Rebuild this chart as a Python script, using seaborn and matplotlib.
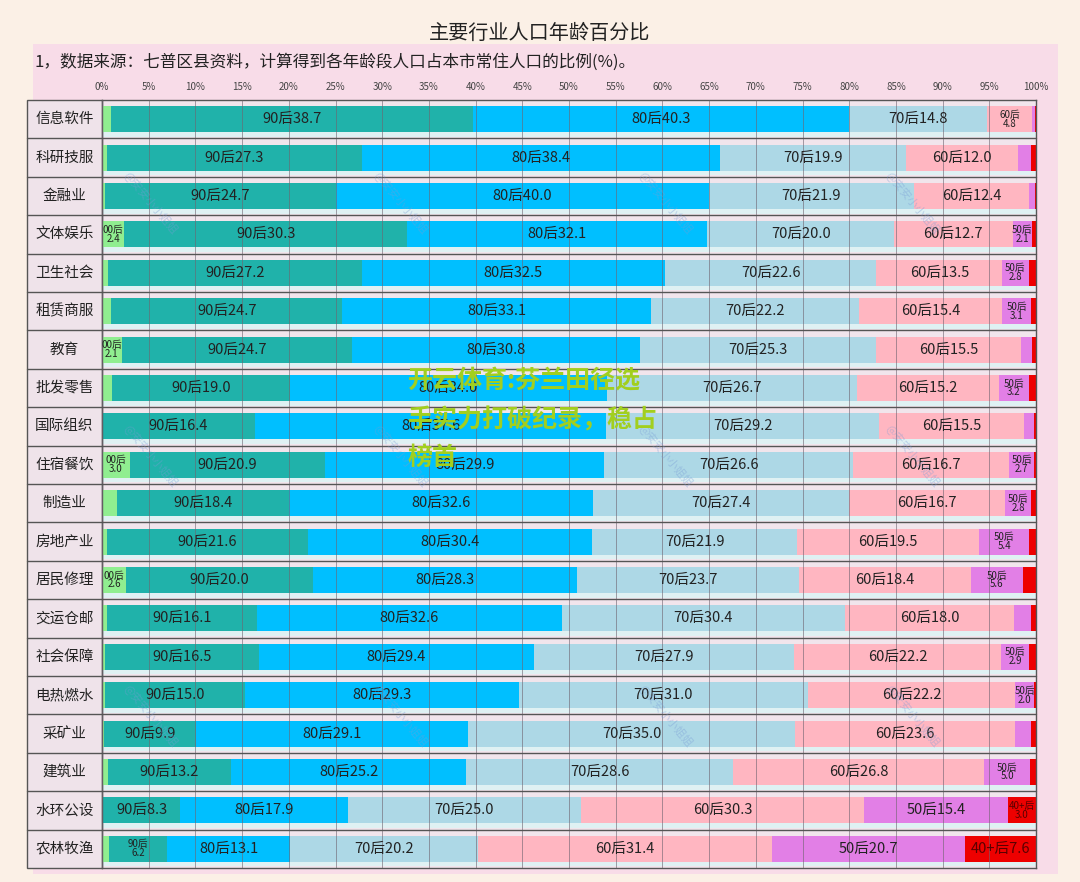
import numpy as np
import pandas as pd
import matplotlib.pyplot as plt
import seaborn as sns
from matplotlib.patches import Rectangle

sns.set_style('white')
plt.rcParams['font.family'] = ['Noto Sans CJK SC', 'DejaVu Sans']

industries = ['信息软件', '科研技服', '金融业', '文体娱乐', '卫生社会', '租赁商服', '教育',
              '批发零售', '国际组织', '住宿餐饮', '制造业', '房地产业', '居民修理', '交运仓邮',
              '社会保障', '电热燃水', '采矿业', '建筑业', '水环公设', '农林牧渔']

post00 = [1.0, 0.5, 0.3, 2.4, 0.6, 1.0, 2.1, 1.1, 0.0, 3.0, 1.6, 0.5, 2.6, 0.5, 0.3, 0.3, 0.2, 0.6, 0.1, 0.8]
post90 = [38.7, 27.3, 24.7, 30.3, 27.2, 24.7, 24.7, 19.0, 16.4, 20.9, 18.4, 21.6, 20.0, 16.1, 16.5, 15.0, 9.9, 13.2, 8.3, 6.2]
post80 = [40.3, 38.4, 40.0, 32.1, 32.5, 33.1, 30.8, 34.0, 37.6, 29.9, 32.6, 30.4, 28.3, 32.6, 29.4, 29.3, 29.1, 25.2, 17.9, 13.1]
post70 = [14.8, 19.9, 21.9, 20.0, 22.6, 22.2, 25.3, 26.7, 29.2, 26.6, 27.4, 21.9, 23.7, 30.4, 27.9, 31.0, 35.0, 28.6, 25.0, 20.2]
post60 = [4.8, 12.0, 12.4, 12.7, 13.5, 15.4, 15.5, 15.2, 15.5, 16.7, 16.7, 19.5, 18.4, 18.0, 22.2, 22.2, 23.6, 26.8, 30.3, 31.4]
post50 = [0.3, 1.4, 0.6, 2.1, 2.8, 3.1, 1.2, 3.2, 1.1, 2.7, 2.8, 5.4, 5.6, 1.9, 2.9, 2.0, 1.7, 5.0, 15.4, 20.7]
post40 = [0.1, 0.5, 0.1, 0.4, 0.8, 0.5, 0.4, 0.8, 0.2, 0.2, 0.5, 0.7, 1.4, 0.5, 0.8, 0.2, 0.5, 0.6, 3.0, 7.6]

groups = ['00后', '90后', '80后', '70后', '60后', '50后', '40+后']
colors = ['#90EE90', '#20B2AA', '#00BFFF', '#ADD8E6', '#FFB6C1', '#E27FE6', '#EE0000']
ticks = list(range(0, 101, 5))

df = pd.DataFrame({'industry': industries, '00后': post00, '90后': post90, '80后': post80,
                   '70后': post70, '60后': post60, '50后': post50, '40+后': post40})
cum = df[groups].cumsum(axis=1)

W, H = 1080, 882


def fx(px):
    return px / W


def fy(py):
    return 1 - py / H


fig = plt.figure(figsize=(10.8, 8.82), dpi=100)
fig.patch.set_facecolor('#FBF0E6')
fig.add_artist(Rectangle((fx(33), fy(874)), fx(1058) - fx(33), fy(44) - fy(874),
                         transform=fig.transFigure, facecolor='#F8DCE8', edgecolor='none', zorder=-1))

ax = fig.add_axes([fx(102), fy(868), fx(1036) - fx(102), fy(100) - fy(868)])
ax.set_facecolor('#F1E5EC')

n = len(industries)
# light strip under every bar
for i in range(n):
    ax.axhspan(i + 0.34, i + 0.46, color='#DFF1F3', zorder=0.5, lw=0)

# stacked bars: draw cumulative totals from the outermost group inwards
for g, c in reversed(list(zip(groups, colors))):
    d = pd.DataFrame({'industry': industries, 'cum': cum[g]})
    sns.barplot(data=d, x='cum', y='industry', order=industries, color=c, saturation=1,
                width=0.68, orient='h', errorbar=None, linewidth=0, ax=ax, zorder=2)

ax.set_xlim(0, 100)
ax.set_ylim(n - 0.5, -0.5)

# segment labels
for i in range(n):
    for g in groups:
        v = df.loc[i, g]
        if v < 2.0:
            continue
        center = cum.loc[i, g] - v / 2
        tc = '#5a0000' if g == '40+后' else '#222222'
        if v < 7:
            ax.text(center, i, f'{g}\n{v:.1f}', ha='center', va='center', fontsize=7,
                    linespacing=0.85, color=tc, zorder=5)
        else:
            ax.text(center, i, f'{g}{v:.1f}', ha='center', va='center', fontsize=10.5,
                    color=tc, zorder=5)

# vertical grid on top of the bars
ax.vlines(ticks, -0.5, n - 0.5, colors='#6f6470', lw=0.6, alpha=0.7, zorder=3)

# category column
col_w = (102 - 27) / (1036 - 102)
ax.add_patch(Rectangle((-col_w, 0), col_w, 1, transform=ax.transAxes, clip_on=False,
                       facecolor='#EFE3EA', edgecolor='#555555', lw=1, zorder=1))
ytf = ax.get_yaxis_transform()
for i, name in enumerate(industries):
    ax.text(-col_w / 2, i, name, transform=ytf, ha='center', va='center', fontsize=10.5,
            color='#222222', clip_on=False)
for i in range(n - 1):
    ax.plot([-col_w, 1], [i + 0.5, i + 0.5], transform=ytf, clip_on=False,
            color='#555555', lw=1, zorder=4)

ax.xaxis.tick_top()
ax.set_xticks(ticks)
ax.set_xticklabels([f'{t}%' for t in ticks], fontsize=7, color='#444444')
ax.tick_params(axis='x', length=0, pad=6)
ax.set_yticks([])
ax.set_xlabel('')
ax.set_ylabel('')
for s in ax.spines.values():
    s.set_color('#555555')
    s.set_linewidth(1)

fig.text(0.5, fy(33), '主要行业人口年龄百分比', ha='center', va='center', fontsize=14.5, color='#222222')
fig.text(fx(35), fy(62), '1，数据来源：七普区县资料，计算得到各年龄段人口占本市常住人口的比例(%)。',
         ha='left', va='center', fontsize=12, color='#222222')

# faint author watermarks
for wx in [150, 400, 665, 912]:
    for wy in [203, 456, 716]:
        fig.text(fx(wx), fy(wy), '@安安小小姐姐', ha='center', va='center', rotation=-50,
                 fontsize=8, color='#7a9cd6', alpha=0.4)

# overlaid green caption
for k, line in enumerate(['开云体育:芬兰田径选', '手实力打破纪录，稳占', '榜首']):
    fig.text(fx(408), fy(381 + 38.5 * k), line, ha='left', va='center', fontsize=18,
             fontweight='bold', color='#A2CF1E')

fig.savefig('out.png', dpi=100, facecolor=fig.get_facecolor())
